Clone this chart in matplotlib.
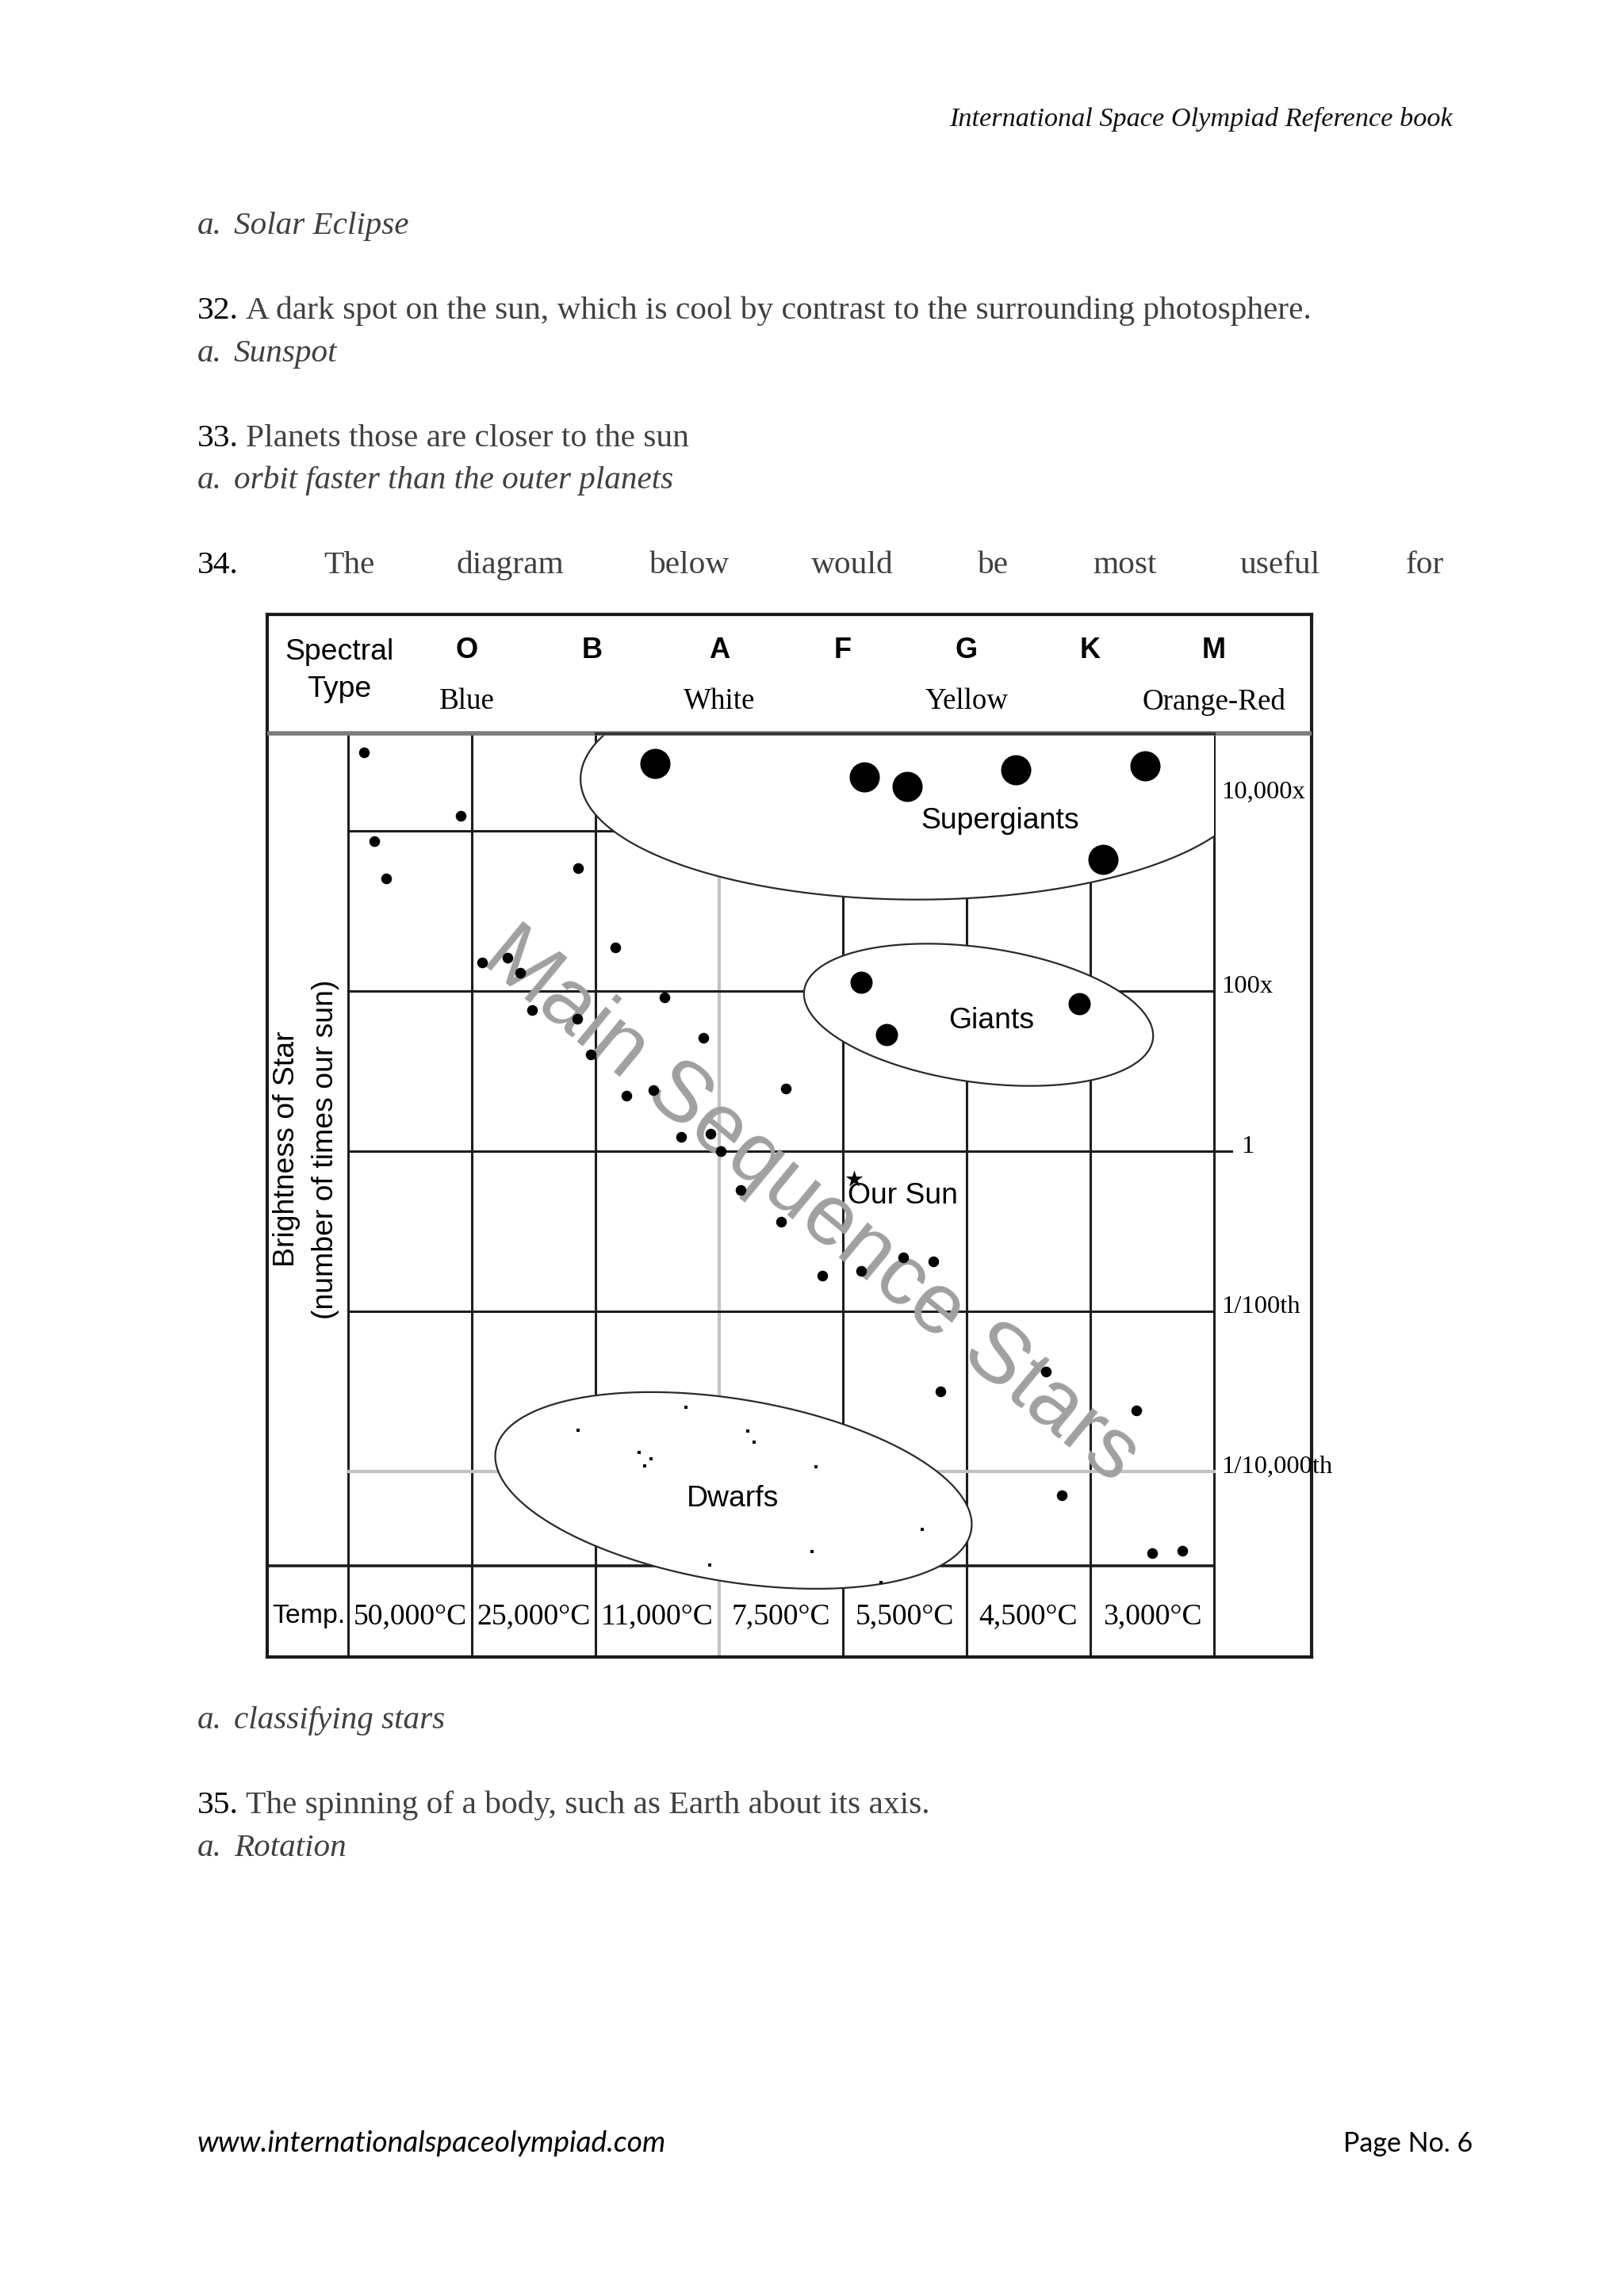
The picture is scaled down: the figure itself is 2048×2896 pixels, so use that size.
import numpy as np
import matplotlib
matplotlib.use('Agg')
import matplotlib.pyplot as plt
from matplotlib.patches import Polygon, Rectangle

# ---- values ----
# x: position across the columns (0 = left edge of the O column, one unit per column)
# y: log10 of brightness relative to the Sun
ms_x = [0.13, 0.91, 0.21, 0.31, 1.86, 1.08, 1.29, 1.39, 2.16, 1.49, 1.85, 2.56, 1.96, 2.87, 2.25, 2.47,
        3.54, 2.69, 2.93, 3.01, 3.17, 3.50, 3.83, 4.15, 4.49, 4.73, 4.79, 5.64, 6.37, 5.77, 6.50, 6.74]
ms_y = [4.98, 4.19, 3.87, 3.40, 3.53, 2.35, 2.41, 2.22, 2.54, 1.76, 1.65, 1.92, 1.20, 1.41, 0.69, 0.76,
        0.78, 0.18, 0.21, 0.00, -0.49, -0.88, -1.56, -1.50, -1.33, -1.38, -3.00, -2.76, -3.24, -4.30, -5.02, -4.99]
sg_x = [2.48, 4.17, 4.52, 5.40, 6.44, 6.10]
sg_y = [4.84, 4.67, 4.55, 4.76, 4.81, 3.64]
gi_x = [4.15, 4.35, 5.91]
gi_y = [2.11, 1.45, 1.84]
dw_x = [1.86, 2.73, 3.23, 3.28, 2.35, 2.45, 2.40, 3.78, 4.64, 3.75, 2.92, 4.31]
dw_y = [-3.49, -3.20, -3.50, -3.64, -3.77, -3.84, -3.93, -3.94, -4.73, -5.00, -5.17, -5.39]
sun_x, sun_y = [4.09], [-0.35]

spectral_types = ['O', 'B', 'A', 'F', 'G', 'K', 'M']
colour_names = ['Blue', 'White', 'Yellow', 'Orange-Red']
temps = ['50,000°C', '25,000°C', '11,000°C', '7,500°C', '5,500°C', '4,500°C', '3,000°C']
lum_ticks = [4, 2, 0, -2, -4]
lum_labels = ['10,000x', '100x', '1', '1/100th', '1/10,000th']

W, H = 2048, 2896
fig = plt.figure(figsize=(W / 100, H / 100), dpi=100)
r = fig.canvas.get_renderer()

def fit(t, width, rot=None):
    # scale the font so the text spans the wanted width (px)
    w = t.get_window_extent(r).width
    t.set_fontsize(t.get_fontsize() * width / w)
    if rot is not None:
        t.set_rotation(rot)
    return t

# ---- page text ----
page = fig.add_axes([0, 0, 1, 1])
page.set_xlim(0, W)
page.set_ylim(H, 0)
page.axis('off')

serif = 'Liberation Serif'
grey = '#404040'
title = page.text(1832, 159, 'International Space Olympiad Reference book', family=serif,
                  style='italic', color='#111111', ha='right', va='baseline', fontsize=20)
fit(title, 635)

probe = page.text(310, 402, 'A dark spot on the sun, which is cool by contrast to the surrounding photosphere.',
                  family=serif, color=grey, va='baseline', fontsize=20)
fit(probe, 1341)
fs_body = probe.get_fontsize()
probe2 = page.text(295, 616, 'orbit faster than the outer planets', family=serif, style='italic',
                   color=grey, va='baseline', fontsize=20)
fit(probe2, 555)
fs_it = probe2.get_fontsize()

def answer(y, txt):
    page.text(249, y, 'a.', family=serif, style='italic', color=grey, va='baseline', fontsize=fs_it)
    if txt:
        page.text(295, y, txt, family=serif, style='italic', color=grey, va='baseline', fontsize=fs_it)

def question(y, num, txt):
    page.text(249, y, num, family=serif, color='black', va='baseline', fontsize=fs_body)
    if txt:
        page.text(310, y, txt, family=serif, color=grey, va='baseline', fontsize=fs_body)

answer(295, 'Solar Eclipse')
question(402, '32.', None)
answer(456, 'Sunspot')
question(563, '33.', 'Planets those are closer to the sun')
answer(616, None)
question(723, '34.', None)
for wx, word in zip([440, 643, 869, 1075, 1252, 1418, 1614, 1797],
                    ['The', 'diagram', 'below', 'would', 'be', 'most', 'useful', 'for']):
    page.text(wx, 723, word, family=serif, color=grey, va='baseline', ha='center', fontsize=fs_body)
answer(2180, 'classifying stars')
question(2287, '35.', 'The spinning of a body, such as Earth about its axis.')
answer(2341, 'Rotation')

url = page.text(249, 2714, 'www.internationalspaceolympiad.com', family='Lato', style='italic',
                color='black', va='baseline', fontsize=20)
fit(url, 591)
pg = page.text(1857, 2714, 'Page No. 6', family='Lato', color='black', va='baseline', ha='right', fontsize=20)
fit(pg, 163)

# ---- the diagram ----
BOX = (337, 775, 1654, 2090)  # left, top, right, bottom (px)
ax = fig.add_axes([BOX[0] / W, 1 - BOX[3] / H, (BOX[2] - BOX[0]) / W, (BOX[3] - BOX[1]) / H])
X0, X1 = -0.654, 7.788
Y0, Y1 = -6.32, 6.70
HEAD, FOOT = 5.21, -5.18
ax.set_xlim(X0, X1)
ax.set_ylim(Y0, Y1)
ax.set_xticks([])
ax.set_yticks([])
for s in ax.spines.values():
    s.set_linewidth(3)
    s.set_color('#1a1a1a')
SX = (BOX[2] - BOX[0]) / (X1 - X0)
SY = (BOX[3] - BOX[1]) / (Y1 - Y0)

ink, pale = '#1e1e1e', '#c2c2c2'
for x in range(8):
    ax.plot([x, x], [Y0, HEAD], color=pale if x == 3 else ink, lw=3 if x == 3 else 2.2, zorder=1)
for y in lum_ticks:
    ax.plot([0, 7.14 if y == 0 else 7], [y, y], color=pale if y == -4 else ink,
            lw=3 if y == -4 else 2.2, zorder=1)
ax.plot([X0, 7], [FOOT, FOOT], color=ink, lw=2.6, zorder=1)
ax.plot([X0, X1], [HEAD, HEAD], color='#7c7c7c', lw=4, zorder=3)
ax.plot([2, 7], [HEAD, HEAD], color='#333333', lw=2.5, zorder=3)

def oval(cx, cy, a, b, tilt):
    t = np.linspace(0, 2 * np.pi, 361)
    c, s = np.cos(np.deg2rad(tilt)), np.sin(np.deg2rad(tilt))
    ex, ey = a * np.cos(t), b * np.sin(t)
    return np.column_stack([cx + (ex * c - ey * s) / SX, cy + (ex * s + ey * c) / SY])

plot_area = Rectangle((0, FOOT), 7, HEAD - FOOT, transform=ax.transData)
sg = Polygon(oval(4.603, 4.644, 425, 152, 0), closed=True, fc='white', ec='#2a2a2a', lw=1.6, zorder=2)
ax.add_patch(sg)
sg.set_clip_path(plot_area)
ax.add_patch(Polygon(oval(5.096, 1.70, 222, 85, -8), closed=True, fc='white', ec='#2a2a2a', lw=1.6, zorder=2))
ax.add_patch(Polygon(oval(3.115, -4.24, 304, 115, -9.5), closed=True, fc='white', ec='#2a2a2a', lw=1.6, zorder=2))

ms = ax.text(3.74, -0.69, 'Main Sequence Stars', family='Liberation Sans', color='#a0a0a0',
             ha='center', va='center', rotation_mode='anchor', fontsize=40, zorder=4)
fit(ms, 1035, rot=-39.5)

ax.scatter(ms_x, ms_y, s=95, c='black', linewidths=0, zorder=5)
ax.scatter(sg_x, sg_y, s=750, c='black', linewidths=0, zorder=5)
ax.scatter(gi_x, gi_y, s=406, c='black', linewidths=0, zorder=5)
ax.scatter(dw_x, dw_y, s=12, c='black', marker='s', linewidths=0, zorder=5)
ax.scatter(sun_x, sun_y, s=260, c='black', marker='*', linewidths=0, zorder=5)

sans = 'Liberation Sans'
fit(ax.text(5.27, 4.12, 'Supergiants', family=sans, ha='center', va='center', fontsize=20, zorder=6), 199)
fs_lab = ax.texts[-1].get_fontsize()
ax.text(5.20, 1.63, 'Giants', family=sans, ha='center', va='center', fontsize=fs_lab, zorder=6)
ax.text(4.04, -0.56, 'Our Sun', family=sans, ha='left', va='center', fontsize=fs_lab, zorder=6)
ax.text(3.11, -4.34, 'Dwarfs', family=sans, ha='center', va='center', fontsize=fs_lab, zorder=6)

# header row
sp = ax.text(-0.07, 6.23, 'Spectral', family=sans, ha='center', va='center', fontsize=20)
fit(sp, 137)
ax.text(-0.07, 5.76, 'Type', family=sans, ha='center', va='center', fontsize=sp.get_fontsize())
type_x = [0.96, 1.97, 3.0, 4.0, 5.0, 6.0, 7.0]
for tx, lab in zip(type_x, spectral_types):
    ax.text(tx, 6.25, lab, family=sans, weight='bold', ha='center', va='center', fontsize=26)
cw = ax.text(type_x[6], 5.61, colour_names[3], family=serif, ha='center', va='center', fontsize=20)
fit(cw, 181)
for i, lab in zip([0, 2, 4], colour_names[:3]):
    ax.text(type_x[i], 5.61, lab, family=serif, ha='center', va='center', fontsize=cw.get_fontsize())

# temperature row
tt = ax.text(0.5, -5.81, temps[0], family=serif, ha='center', va='center', fontsize=20)
fit(tt, 143)
for i, lab in enumerate(temps[1:], start=1):
    ax.text(i + 0.5, -5.81, lab, family=serif, ha='center', va='center', fontsize=tt.get_fontsize())
fit(ax.text(-0.32, -5.81, 'Temp.', family=sans, ha='center', va='center', fontsize=20), 92)

# brightness labels
lt = ax.text(7.06, 4.48, lum_labels[0], family=serif, ha='left', va='center', fontsize=20)
fit(lt, 105)
for t, lab in zip(lum_ticks[1:], lum_labels[1:]):
    ax.text(7.22 if t == 0 else 7.06, t + 0.05, lab, family=serif, ha='left', va='center',
            fontsize=lt.get_fontsize(), clip_on=False)

yl2 = ax.text(-0.18, 0.02, '(number of times our sun)', family=sans, ha='center', va='center',
              rotation_mode='anchor', fontsize=20)
fit(yl2, 428, rot=90)
ax.text(-0.50, 0.02, 'Brightness of Star', family=sans, ha='center', va='center', rotation=90,
        rotation_mode='anchor', fontsize=yl2.get_fontsize())

fig.savefig('out.png', dpi=100, facecolor='white')
